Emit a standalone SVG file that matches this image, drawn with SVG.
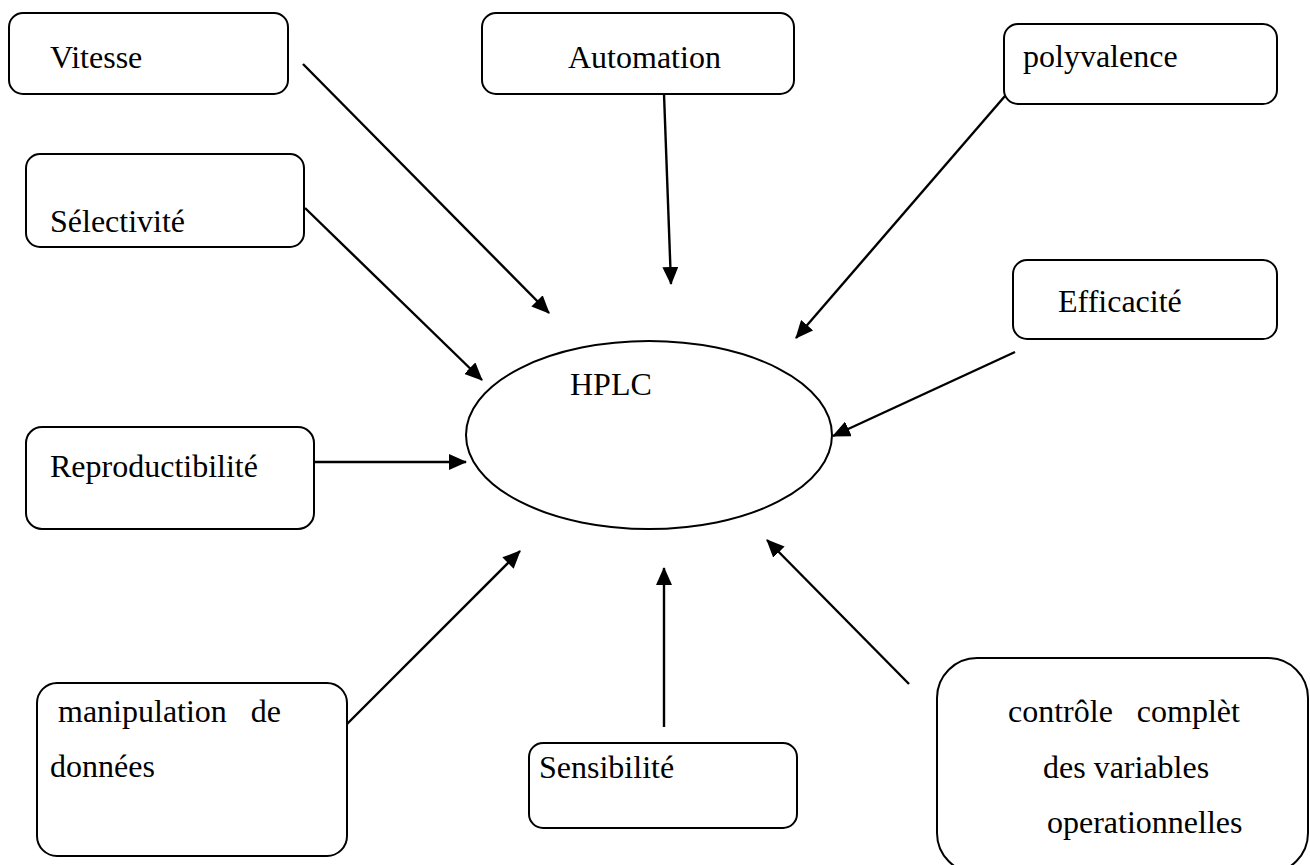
<svg xmlns="http://www.w3.org/2000/svg" width="1310" height="865" viewBox="0 0 1310 865">
  <defs>
    <style>
      .box { fill: #fff; stroke: #000; stroke-width: 2; }
      .lbl { font-family: 'Liberation Serif', Tinos, 'DejaVu Serif', serif; font-size: 32px; fill: #000; }
      .conn { stroke: #000; stroke-width: 2.4; fill: none; marker-end: url(#arrow); }
    </style>
    <marker id="arrow" markerUnits="userSpaceOnUse" markerWidth="18" markerHeight="16" refX="17" refY="8" orient="auto">
      <path d="M0,0 L18,8 L0,16 z" fill="#000"/>
    </marker>
  </defs>
  <rect width="1310" height="865" fill="#fff"/>

  <g id="connectors">
    <line class="conn" x1="303" y1="64" x2="549" y2="313"/>
    <line class="conn" x1="305" y1="208" x2="482" y2="380"/>
    <line class="conn" x1="664" y1="94" x2="671" y2="284"/>
    <line class="conn" x1="1005" y1="96" x2="796" y2="338"/>
    <line class="conn" x1="1015" y1="352" x2="833" y2="436"/>
    <line class="conn" x1="314" y1="462" x2="466" y2="462"/>
    <line class="conn" x1="346" y1="725" x2="520" y2="551"/>
    <line class="conn" x1="664" y1="727" x2="664" y2="568"/>
    <line class="conn" x1="909" y1="684" x2="767" y2="540"/>
  </g>

  <g id="hplc">
    <ellipse cx="649" cy="435" rx="183" ry="94" fill="#fff" stroke="#000" stroke-width="2"/>
    <text class="lbl" x="570" y="395" font-family="Liberation Serif, serif">HPLC</text>
  </g>

  <g id="vitesse">
    <rect class="box" x="9" y="13" width="279" height="81" rx="14"/>
    <text class="lbl" x="50" y="68">Vitesse</text>
  </g>

  <g id="selectivite">
    <rect class="box" x="26" y="154" width="278" height="93" rx="14"/>
    <text class="lbl" x="50" y="232">Sélectivité</text>
  </g>

  <g id="automation">
    <rect class="box" x="482" y="13" width="312" height="81" rx="14"/>
    <text class="lbl" x="568" y="68">Automation</text>
  </g>

  <g id="polyvalence">
    <rect class="box" x="1004" y="24" width="273" height="80" rx="14"/>
    <text class="lbl" x="1023" y="67">polyvalence</text>
  </g>

  <g id="efficacite">
    <rect class="box" x="1013" y="260" width="264" height="79" rx="14"/>
    <text class="lbl" x="1058" y="312">Efficacité</text>
  </g>

  <g id="reproductibilite">
    <rect class="box" x="26" y="427" width="288" height="102" rx="16"/>
    <text class="lbl" x="50" y="477">Reproductibilité</text>
  </g>

  <g id="manipulation">
    <rect class="box" x="37" y="683" width="310" height="173" rx="20"/>
    <text class="lbl" x="58" y="722" xml:space="preserve">manipulation   de</text>
    <text class="lbl" x="50" y="777">données</text>
  </g>

  <g id="sensibilite">
    <rect class="box" x="529" y="743" width="268" height="85" rx="14"/>
    <text class="lbl" x="539" y="778">Sensibilité</text>
  </g>

  <g id="controle">
    <rect class="box" x="937" y="658" width="371" height="215" rx="40"/>
    <text class="lbl" x="1008" y="722" xml:space="preserve">contrôle   complèt</text>
    <text class="lbl" x="1043" y="778">des variables</text>
    <text class="lbl" x="1047" y="833">operationnelles</text>
  </g>
</svg>
